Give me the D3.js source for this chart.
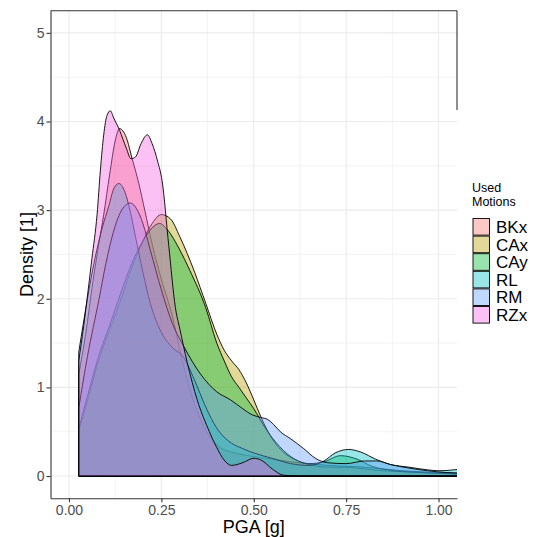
<!DOCTYPE html>
<html>
<head>
<meta charset="utf-8">
<script src="https://cdn.jsdelivr.net/npm/d3@7"></script>
<style>
  body { margin: 0; background: #fff; }
  text { font-family: "Liberation Sans", Arial, Helvetica, sans-serif; }
</style>
</head>
<body>
<svg id="chart" width="542" height="537"></svg>
<script>
// motions in legend order, ggplot default hue palette
const motions = ["BKx", "CAx", "CAy", "RL", "RM", "RZx"];
const motionColors = ["#F8766D", "#B79F00", "#00BA38", "#00BFC4", "#619CFF", "#F564E3"];

// density estimates: [PGA, density]
const bkx = [[0.0265,1.15],[0.045,1.6],[0.065,2.2],[0.08,2.6],[0.094,2.95],[0.11,3.4],[0.125,3.78],[0.137,3.92],[0.155,3.82],[0.171,3.58],[0.189,3.3],[0.205,3.0],[0.225,2.62],[0.25,2.22],[0.28,1.8],[0.3,1.42],[0.32,1.08],[0.35,0.7],[0.38,0.45],[0.41,0.32],[0.45,0.26],[0.5,0.22],[0.55,0.19],[0.6,0.16],[0.7,0.12],[0.8,0.1],[0.9,0.06],[1.0,0.04],[1.08,0.03]];
const cax = [[0.0265,0.5],[0.05,0.85],[0.08,1.3],[0.11,1.65],[0.137,1.95],[0.17,2.35],[0.2,2.65],[0.225,2.85],[0.25,2.95],[0.275,2.9],[0.3,2.7],[0.34,2.3],[0.37,1.95],[0.4,1.6],[0.42,1.42],[0.44,1.3],[0.46,1.2],[0.48,1.05],[0.5,0.86],[0.52,0.66],[0.55,0.42],[0.58,0.27],[0.62,0.17],[0.66,0.12],[0.7,0.1],[0.75,0.1],[0.8,0.08],[0.85,0.06],[0.9,0.05],[1.0,0.03],[1.08,0.02]];
const cay = [[0.0265,0.54],[0.05,0.9],[0.08,1.35],[0.11,1.7],[0.139,2.05],[0.17,2.4],[0.2,2.65],[0.225,2.8],[0.245,2.85],[0.266,2.78],[0.3,2.55],[0.327,2.32],[0.37,1.9],[0.4,1.5],[0.42,1.3],[0.44,1.12],[0.46,1.0],[0.48,0.88],[0.5,0.76],[0.53,0.55],[0.56,0.38],[0.6,0.22],[0.65,0.14],[0.69,0.16],[0.735,0.23],[0.78,0.19],[0.82,0.11],[0.88,0.06],[0.95,0.04],[1.08,0.02]];
const rl = [[0.0265,1.4],[0.04,1.75],[0.05,2.0],[0.07,2.45],[0.09,2.8],[0.108,3.05],[0.122,3.25],[0.135,3.3],[0.15,3.22],[0.165,3.0],[0.18,2.7],[0.2,2.3],[0.22,1.95],[0.25,1.62],[0.28,1.45],[0.31,1.34],[0.34,1.08],[0.37,0.78],[0.4,0.54],[0.43,0.4],[0.47,0.31],[0.5,0.26],[0.55,0.2],[0.6,0.14],[0.65,0.12],[0.69,0.17],[0.72,0.26],[0.757,0.3],[0.79,0.27],[0.83,0.19],[0.87,0.13],[0.92,0.1],[0.97,0.07],[1.0,0.06],[1.03,0.065],[1.055,0.076],[1.08,0.07]];
const rm = [[0.0265,0.77],[0.05,1.35],[0.081,1.99],[0.1,2.4],[0.12,2.75],[0.14,2.98],[0.166,3.08],[0.185,3.0],[0.2,2.85],[0.22,2.55],[0.25,2.1],[0.28,1.72],[0.311,1.46],[0.356,1.15],[0.4,0.95],[0.437,0.86],[0.47,0.76],[0.496,0.69],[0.52,0.66],[0.537,0.64],[0.554,0.58],[0.572,0.5],[0.6,0.42],[0.635,0.31],[0.667,0.2],[0.7,0.15],[0.75,0.14],[0.8,0.17],[0.834,0.17],[0.87,0.13],[0.92,0.09],[0.97,0.06],[1.02,0.04],[1.08,0.03]];
const rzx = [[0.0265,1.3],[0.04,1.7],[0.049,2.0],[0.062,2.45],[0.076,2.95],[0.085,3.45],[0.094,3.85],[0.103,4.07],[0.112,4.12],[0.121,4.04],[0.137,3.9],[0.155,3.7],[0.168,3.58],[0.18,3.6],[0.195,3.75],[0.212,3.85],[0.225,3.75],[0.24,3.55],[0.252,3.33],[0.27,2.6],[0.288,1.9],[0.3,1.66],[0.32,1.28],[0.347,0.86],[0.38,0.5],[0.4,0.32],[0.42,0.18],[0.44,0.12],[0.47,0.15],[0.5,0.2],[0.52,0.18],[0.55,0.08],[0.58,0.01],[0.62,0],[1.08,0]];

const densities = [bkx, cax, cay, rl, rm, rzx];

const xTicks = [0, 0.25, 0.5, 0.75, 1];
const xMinor = [0.125, 0.375, 0.625, 0.875];
const yTicks = [0, 1, 2, 3, 4, 5];
const yMinor = [0.5, 1.5, 2.5, 3.5, 4.5];

const svg = d3.select("#chart");
const panel = { left: 50.5, right: 457, top: 10.7, bottom: 498.2 };

const x = d3.scaleLinear().domain([-0.05, 1.05]).range([panel.left, panel.right]);
const y = d3.scaleLinear().domain([-0.25, 5.25]).range([panel.bottom, panel.top]);

svg.append("defs").append("clipPath").attr("id", "clip")
    .append("rect")
    .attr("x", panel.left).attr("y", panel.top)
    .attr("width", panel.right - panel.left).attr("height", panel.bottom - panel.top);

// grid
const grid = svg.append("g");
grid.selectAll(".xminor").data(xMinor).enter().append("line")
    .attr("x1", d => x(d)).attr("x2", d => x(d))
    .attr("y1", panel.top).attr("y2", panel.bottom)
    .attr("stroke", "#EBEBEB").attr("stroke-width", 0.6);
grid.selectAll(".yminor").data(yMinor).enter().append("line")
    .attr("x1", panel.left).attr("x2", panel.right)
    .attr("y1", d => y(d)).attr("y2", d => y(d))
    .attr("stroke", "#EBEBEB").attr("stroke-width", 0.6);
grid.selectAll(".xmajor").data(xTicks).enter().append("line")
    .attr("x1", d => x(d)).attr("x2", d => x(d))
    .attr("y1", panel.top).attr("y2", panel.bottom)
    .attr("stroke", "#EBEBEB").attr("stroke-width", 1.1);
grid.selectAll(".ymajor").data(yTicks).enter().append("line")
    .attr("x1", panel.left).attr("x2", panel.right)
    .attr("y1", d => y(d)).attr("y2", d => y(d))
    .attr("stroke", "#EBEBEB").attr("stroke-width", 1.1);

// densities
const area = d3.area()
    .x(d => x(d[0]))
    .y0(y(0))
    .y1(d => y(d[1]))
    .curve(d3.curveMonotoneX);

svg.append("g").attr("clip-path", "url(#clip)")
    .selectAll("path")
    .data(densities)
    .enter()
    .append("path")
    .attr("d", area)
    .attr("fill", (d, i) => motionColors[i])
    .attr("fill-opacity", 0.4)
    .attr("stroke", "#000")
    .attr("stroke-width", 0.9)
    .attr("stroke-linejoin", "round");

// axes
const xAxis = svg.append("g")
    .attr("transform", `translate(0,${panel.bottom})`)
    .call(d3.axisBottom(x).tickValues(xTicks).tickFormat(d3.format(".2f")).tickSize(4).tickSizeOuter(0));
const yAxis = svg.append("g")
    .attr("transform", `translate(${panel.left},0)`)
    .call(d3.axisLeft(y).tickValues(yTicks).tickFormat(d3.format("d")).tickSize(4).tickSizeOuter(0));

[xAxis, yAxis].forEach(a => {
    a.select(".domain").attr("stroke", "#333333").attr("stroke-width", 1.1);
    a.selectAll(".tick line").attr("stroke", "#333333").attr("stroke-width", 1.1);
    a.selectAll(".tick text")
        .attr("fill", "#4D4D4D")
        .style("font-size", "14px")
        .style("font-family", "'Liberation Sans', Arial, sans-serif");
});
xAxis.selectAll(".tick text").attr("dy", 0).attr("y", 16.5);
yAxis.selectAll(".tick text").attr("x", -6);

// partial panel border (top and upper right)
svg.append("line")
    .attr("x1", panel.left).attr("x2", panel.right)
    .attr("y1", panel.top).attr("y2", panel.top)
    .attr("stroke", "#333333").attr("stroke-width", 1.1);
svg.append("line")
    .attr("x1", panel.right).attr("x2", panel.right)
    .attr("y1", panel.top).attr("y2", 110)
    .attr("stroke", "#333333").attr("stroke-width", 1.1);

// axis titles
svg.append("text")
    .attr("x", (panel.left + panel.right) / 2)
    .attr("y", 533)
    .attr("text-anchor", "middle")
    .style("font-size", "18px")
    .text("PGA [g]");
svg.append("text")
    .attr("transform", `translate(33,${(panel.top + panel.bottom) / 2}) rotate(-90)`)
    .attr("text-anchor", "middle")
    .style("font-size", "18px")
    .text("Density [1]");

// legend
const legend = svg.append("g").attr("transform", "translate(472,0)");
legend.append("text").attr("x", 0).attr("y", 192).style("font-size", "12.5px").text("Used");
legend.append("text").attr("x", 0).attr("y", 206).style("font-size", "12.5px").text("Motions");

const keyH = 17.6;
const items = legend.selectAll(".item")
    .data(motions)
    .enter()
    .append("g")
    .attr("transform", (d, i) => `translate(0,${218 + i * keyH})`);
items.append("rect")
    .attr("x", 1).attr("y", 0.5)
    .attr("width", 16.5).attr("height", keyH - 1)
    .attr("fill", (d, i) => motionColors[i])
    .attr("fill-opacity", 0.4)
    .attr("stroke", "#000")
    .attr("stroke-width", 0.9);
items.append("text")
    .attr("x", 24)
    .attr("y", keyH / 2)
    .attr("dy", "0.36em")
    .style("font-size", "17px")
    .text(d => d);
</script>
</body>
</html>
